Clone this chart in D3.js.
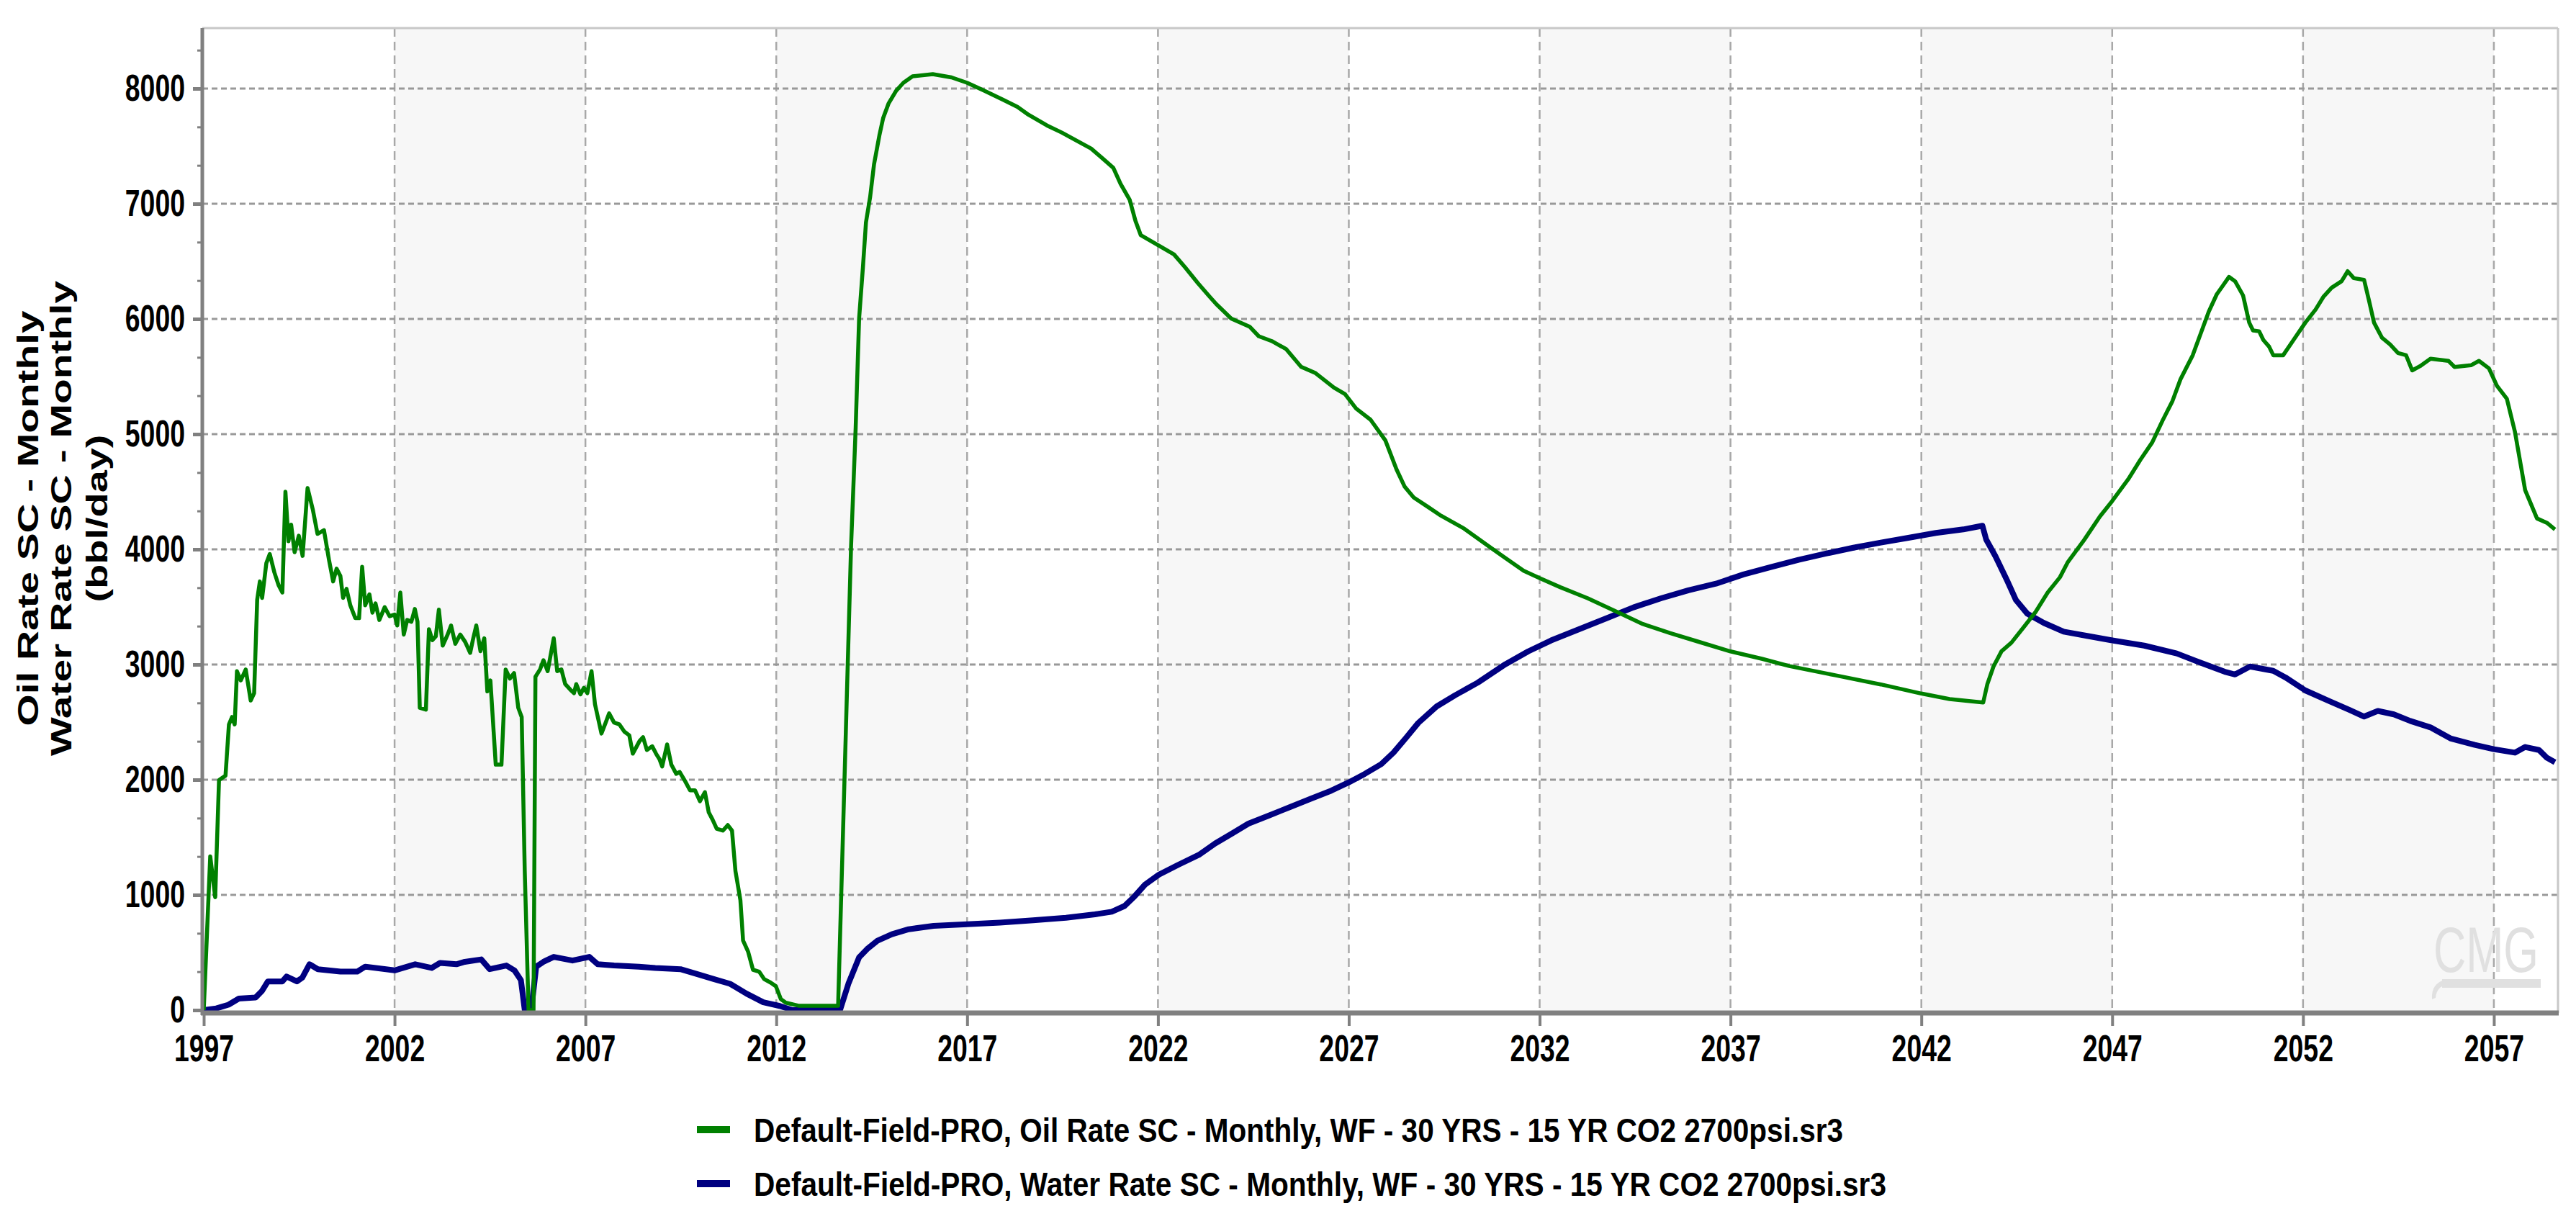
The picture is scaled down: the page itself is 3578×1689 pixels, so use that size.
<!DOCTYPE html>
<html>
<head>
<meta charset="utf-8">
<script src="https://cdn.jsdelivr.net/npm/d3@7"></script>
<style>
  body { margin: 0; background: #fff; }
  svg { display: block; }
</style>
</head>
<body>
<svg id="chart"></svg>
<script>
const width = 3578;
const height = 1689;

// oil rate, bbl/day
const oilT = [1997.00, 1997.17, 1997.30, 1997.40, 1997.57, 1997.66, 1997.74, 1997.81, 1997.87, 1997.97,
  1998.10, 1998.23, 1998.32, 1998.40, 1998.47, 1998.53, 1998.64, 1998.73, 1998.85, 1998.96,
  1999.06, 1999.14, 1999.22, 1999.29, 1999.38, 1999.49, 1999.59, 1999.72, 1999.86, 1999.98,
  2000.15, 2000.28, 2000.39, 2000.48, 2000.58, 2000.65, 2000.74, 2000.84, 2000.97, 2001.07,
  2001.15, 2001.23, 2001.34, 2001.42, 2001.50, 2001.60, 2001.74, 2001.87, 2002.00, 2002.07,
  2002.15, 2002.24, 2002.33, 2002.44, 2002.53, 2002.60, 2002.66, 2002.82, 2002.90, 2002.99,
  2003.08, 2003.16, 2003.26, 2003.39, 2003.48, 2003.59, 2003.72, 2003.85, 2003.98, 2004.05,
  2004.14, 2004.25, 2004.35, 2004.43, 2004.51, 2004.65, 2004.80, 2004.91, 2005.02, 2005.13,
  2005.24, 2005.33, 2005.41, 2005.51, 2005.64, 2005.69, 2005.81, 2005.90, 2006.01, 2006.17,
  2006.26, 2006.37, 2006.47, 2006.60, 2006.70, 2006.76, 2006.87, 2006.96, 2007.05, 2007.16,
  2007.25, 2007.42, 2007.53, 2007.62, 2007.75, 2007.89, 2008.02, 2008.15, 2008.24, 2008.42,
  2008.51, 2008.61, 2008.75, 2008.85, 2008.94, 2009.01, 2009.14, 2009.25, 2009.38, 2009.47,
  2009.61, 2009.74, 2009.87, 2010.00, 2010.13, 2010.23, 2010.33, 2010.44, 2010.60, 2010.73,
  2010.84, 2010.93, 2011.06, 2011.13, 2011.26, 2011.39, 2011.55, 2011.68, 2011.85, 2011.99,
  2012.12, 2012.25, 2012.58, 2013.62, 2013.96, 2014.08, 2014.17, 2014.27, 2014.35, 2014.46,
  2014.56, 2014.70, 2014.80, 2014.94, 2015.14, 2015.33, 2015.57, 2016.10, 2016.59, 2017.00,
  2017.45, 2017.94, 2018.32, 2018.61, 2019.09, 2019.48, 2019.86, 2020.25, 2020.54, 2020.83,
  2021.02, 2021.26, 2021.41, 2021.55, 2021.99, 2022.42, 2022.71, 2023.05, 2023.34, 2023.53,
  2023.92, 2024.40, 2024.64, 2024.98, 2025.36, 2025.75, 2026.13, 2026.61, 2026.90, 2027.19,
  2027.57, 2027.96, 2028.25, 2028.46, 2028.70, 2029.06, 2029.42, 2030.02, 2030.62, 2031.10,
  2031.58, 2032.00, 2032.54, 2033.26, 2033.98, 2034.70, 2035.42, 2036.14, 2037.00, 2037.82,
  2038.54, 2039.74, 2040.94, 2042.00, 2042.74, 2043.62, 2043.73, 2043.89, 2044.10, 2044.36,
  2044.68, 2044.99, 2045.31, 2045.63, 2045.84, 2046.26, 2046.68, 2047.00, 2047.42, 2047.74,
  2048.05, 2048.32, 2048.58, 2048.79, 2049.11, 2049.32, 2049.53, 2049.74, 2049.90, 2050.06,
  2050.22, 2050.43, 2050.59, 2050.69, 2050.85, 2050.96, 2051.11, 2051.22, 2051.48, 2051.75,
  2052.06, 2052.33, 2052.54, 2052.75, 2053.01, 2053.17, 2053.33, 2053.60, 2053.73, 2053.86,
  2054.07, 2054.28, 2054.49, 2054.70, 2054.86, 2055.07, 2055.34, 2055.81, 2055.97, 2056.40,
  2056.61, 2056.87, 2057.08, 2057.34, 2057.55, 2057.82, 2058.13, 2058.39, 2058.60];
const oilQ = [0, 1335, 980, 1997, 2035, 2480, 2544, 2480, 2942, 2862,
  2957, 2687, 2751, 3562, 3721, 3578, 3880, 3959, 3800, 3689,
  3625, 4500, 4070, 4214, 3975, 4118, 3943, 4532, 4341, 4134,
  4166, 3911, 3721, 3832, 3768, 3578, 3657, 3514, 3403, 3403,
  3848, 3514, 3609, 3450, 3530, 3387, 3498, 3419, 3434, 3339,
  3625, 3260, 3387, 3371, 3482, 3371, 2624, 2608, 3307, 3212,
  3244, 3476, 3164, 3260, 3339, 3180, 3260, 3196, 3101, 3212,
  3339, 3116, 3228, 2767, 2862, 2131, 2131, 2957, 2878, 2926,
  2624, 2544, 1208, 0, 0, 2894, 2957, 3037, 2942, 3228,
  2942, 2957, 2830, 2783, 2751, 2830, 2741, 2798, 2751, 2942,
  2655, 2401, 2496, 2576, 2496, 2480, 2417, 2385, 2226, 2337,
  2369, 2258, 2290, 2226, 2178, 2115, 2306, 2131, 2051, 2067,
  1988, 1908, 1908, 1813, 1892, 1717, 1654, 1574, 1558, 1606,
  1558, 1208, 954, 604, 509, 350, 334, 270, 239, 207,
  95, 64, 38, 38, 4031, 5056, 6003, 6448, 6838, 7061,
  7340, 7591, 7744, 7869, 7981, 8050, 8106, 8125, 8097, 8050,
  7981, 7903, 7841, 7772, 7680, 7618, 7549, 7479, 7396, 7312,
  7173, 7033, 6852, 6727, 6643, 6560, 6448, 6309, 6198, 6128,
  6003, 5933, 5850, 5808, 5738, 5585, 5529, 5404, 5348, 5223,
  5125, 4944, 4694, 4546, 4450, 4371, 4291, 4180, 4037, 3925,
  3814, 3750, 3671, 3575, 3464, 3352, 3273, 3200, 3114, 3050,
  2987, 2907, 2827, 2748, 2700, 2670, 2831, 2983, 3115, 3190,
  3323, 3455, 3625, 3757, 3890, 4079, 4286, 4419, 4608, 4778,
  4929, 5118, 5288, 5477, 5685, 5874, 6063, 6214, 6289, 6365,
  6327, 6203, 5968, 5900, 5893, 5817, 5760, 5685, 5685, 5817,
  5968, 6082, 6195, 6271, 6327, 6414, 6354, 6339, 6157, 5968,
  5836, 5779, 5704, 5685, 5553, 5591, 5655, 5636, 5583, 5598,
  5636, 5571, 5420, 5307, 5023, 4513, 4268, 4230, 4173];

// water rate, bbl/day
const waterT = [1997.00, 1997.33, 1997.65, 1997.92, 1998.36, 1998.52, 1998.68, 1999.06, 1999.17, 1999.44,
  1999.58, 1999.77, 1999.99, 2000.58, 2001.02, 2001.23, 2002.00, 2002.54, 2002.97, 2003.19,
  2003.62, 2003.84, 2004.27, 2004.49, 2004.93, 2005.14, 2005.31, 2005.41, 2005.58, 2005.71,
  2005.90, 2006.17, 2006.66, 2007.10, 2007.32, 2007.75, 2008.40, 2008.83, 2009.49, 2009.92,
  2010.36, 2010.79, 2011.22, 2011.66, 2012.09, 2012.42, 2013.67, 2013.89, 2014.17, 2014.38,
  2014.65, 2015.03, 2015.47, 2016.12, 2017.00, 2017.86, 2018.73, 2019.59, 2020.35, 2020.79,
  2021.12, 2021.39, 2021.66, 2022.02, 2022.53, 2023.07, 2023.50, 2023.94, 2024.37, 2024.92,
  2025.46, 2026.00, 2026.54, 2027.00, 2027.41, 2027.85, 2028.17, 2028.50, 2028.82, 2029.30,
  2029.78, 2030.38, 2031.10, 2031.70, 2032.30, 2033.02, 2033.74, 2034.46, 2035.18, 2035.90,
  2036.62, 2037.34, 2038.06, 2038.78, 2039.50, 2040.22, 2040.94, 2041.66, 2042.38, 2043.10,
  2043.60, 2043.70, 2043.94, 2044.24, 2044.48, 2044.78, 2045.21, 2045.73, 2046.37, 2047.00,
  2047.84, 2048.69, 2049.43, 2049.95, 2050.22, 2050.61, 2051.22, 2051.54, 2052.06, 2052.70,
  2053.22, 2053.60, 2053.96, 2054.38, 2054.81, 2055.34, 2055.86, 2056.50, 2057.00, 2057.55,
  2057.82, 2058.18, 2058.39, 2058.60];
const waterQ = [0, 15, 47, 100, 110, 164, 249, 249, 291, 249,
  281, 398, 355, 334, 334, 377, 345, 398, 366, 409,
  398, 419, 440, 355, 387, 345, 260, 0, 0, 377,
  419, 462, 430, 462, 398, 387, 377, 366, 355, 313,
  270, 228, 143, 68, 36, 0, 0, 229, 458, 530,
  602, 659, 702, 731, 745, 759, 779, 802, 831, 854,
  903, 989, 1089, 1175, 1261, 1347, 1447, 1533, 1619, 1691,
  1762, 1834, 1905, 1977, 2049, 2135, 2235, 2364, 2493, 2636,
  2732, 2843, 3002, 3114, 3209, 3305, 3400, 3496, 3575, 3645,
  3702, 3782, 3846, 3909, 3963, 4014, 4059, 4100, 4142, 4173,
  4205, 4084, 3941, 3734, 3559, 3440, 3361, 3285, 3247, 3209,
  3164, 3096, 3001, 2937, 2914, 2983, 2945, 2888, 2775, 2680,
  2605, 2548, 2597, 2567, 2510, 2454, 2359, 2302, 2265, 2235,
  2284, 2258, 2190, 2152];

const xTicks = [1997, 2002, 2007, 2012, 2017, 2022, 2027, 2032, 2037, 2042, 2047, 2052, 2057];
const yTicks = [0, 1000, 2000, 3000, 4000, 5000, 6000, 7000, 8000];
const yTitle = ["Oil Rate SC - Monthly", "Water Rate SC - Monthly", "(bbl/day)"];
const legendLabels = [
  "Default-Field-PRO, Oil Rate SC - Monthly, WF - 30 YRS - 15 YR CO2 2700psi.sr3",
  "Default-Field-PRO, Water Rate SC - Monthly, WF - 30 YRS - 15 YR CO2 2700psi.sr3"
];
const seriesColors = ["#008000", "#000080"];

const plotL = 281, plotR = 3553, plotT = 39, plotB = 1403;

const svg = d3.select("#chart")
  .attr("width", width)
  .attr("height", height)
  .attr("viewBox", [0, 0, width, height]);

const x = d3.scaleLinear().domain([1997, 2058.68]).range([283, plotR]);
const y = d3.scaleLinear().domain([0, 8525]).range([plotB, plotT]);

const font = "'Liberation Sans', Arial, sans-serif";

// alternating shaded bands
const bands = [];
for (let i = 1; i < xTicks.length; i += 2) {
  bands.push([xTicks[i], i + 1 < xTicks.length ? xTicks[i + 1] : x.domain()[1]]);
}
svg.append("g")
  .selectAll("rect")
  .data(bands)
  .join("rect")
  .attr("x", d => x(d[0]))
  .attr("width", d => x(d[1]) - x(d[0]))
  .attr("y", plotT)
  .attr("height", plotB - plotT)
  .attr("fill", "#f7f7f7");

// grid
svg.append("g")
  .selectAll("line")
  .data(xTicks.slice(1))
  .join("line")
  .attr("x1", d => x(d)).attr("x2", d => x(d))
  .attr("y1", plotT).attr("y2", plotB)
  .attr("stroke", "#a8a8a8")
  .attr("stroke-width", 2.5)
  .attr("stroke-dasharray", "12,7");

svg.append("g")
  .selectAll("line")
  .data(yTicks.slice(1))
  .join("line")
  .attr("x1", plotL).attr("x2", plotR)
  .attr("y1", d => y(d)).attr("y2", d => y(d))
  .attr("stroke", "#999")
  .attr("stroke-width", 3)
  .attr("stroke-dasharray", "8,5");

// CMG watermark
const logo = svg.append("g").attr("fill", "#e0e0e0");
logo.append("text")
  .attr("transform", "translate(3380,1350) scale(1,1.45)")
  .attr("font-family", font)
  .attr("font-size", 62)
  .attr("textLength", 146)
  .attr("lengthAdjust", "spacingAndGlyphs")
  .text("CMG");
logo.append("rect").attr("x", 3392).attr("y", 1360).attr("width", 137).attr("height", 12);
logo.append("path")
  .attr("d", "M3396,1361 C3384,1364 3377,1372 3378,1388 L3383,1386 C3384,1375 3390,1369 3398,1368 Z");

// borders
svg.append("line")
  .attr("x1", plotL).attr("x2", plotR).attr("y1", plotT).attr("y2", plotT)
  .attr("stroke", "#c8c8c8").attr("stroke-width", 3);
svg.append("line")
  .attr("x1", plotR).attr("x2", plotR).attr("y1", plotT).attr("y2", plotB + 4)
  .attr("stroke", "#c8c8c8").attr("stroke-width", 3);

// series
svg.append("clipPath").attr("id", "plot-clip")
  .append("rect").attr("x", plotL).attr("y", plotT).attr("width", plotR - plotL).attr("height", plotB - plotT + 4);

const line = d3.line().x(d => x(d[0])).y(d => y(d[1]));
const oil = oilT.map((t, i) => [t, oilQ[i]]);
const water = waterT.map((t, i) => [t, waterQ[i]]);

const plot = svg.append("g").attr("clip-path", "url(#plot-clip)");
plot.append("path")
  .datum(water)
  .attr("fill", "none")
  .attr("stroke", seriesColors[1])
  .attr("stroke-width", 8)
  .attr("stroke-linejoin", "round")
  .attr("d", line);
plot.append("path")
  .datum(oil)
  .attr("fill", "none")
  .attr("stroke", seriesColors[0])
  .attr("stroke-width", 5.5)
  .attr("stroke-linejoin", "round")
  .attr("d", line);

// axes
function styleLabels(sel) {
  sel.selectAll("text")
    .attr("font-family", font)
    .attr("font-weight", "bold")
    .attr("font-size", 52)
    .attr("fill", "#000")
    .attr("textLength", function () { return this.textContent.length * 20.8; })
    .attr("lengthAdjust", "spacingAndGlyphs");
}

const yMinor = d3.range(0, 8500, 1000 / 3).filter(v => Math.round(v) % 1000 !== 0);
svg.append("g")
  .attr("transform", `translate(${plotL},0)`)
  .call(d3.axisLeft(y).tickValues(yMinor).tickSize(7).tickFormat(""))
  .call(g => g.select(".domain").remove())
  .call(g => g.selectAll("line").attr("stroke", "#808080").attr("stroke-width", 3));

svg.append("g")
  .attr("transform", `translate(${plotL},0)`)
  .call(d3.axisLeft(y).tickValues(yTicks).tickSize(13).tickPadding(11).tickFormat(d3.format("d")))
  .call(g => g.select(".domain").remove())
  .call(g => g.selectAll("line").attr("stroke", "#808080").attr("stroke-width", 5))
  .call(styleLabels);

svg.append("g")
  .attr("transform", `translate(0,${plotB + 4})`)
  .call(d3.axisBottom(x).tickValues(xTicks).tickSize(18).tickPadding(12).tickFormat(d3.format("d")))
  .call(g => g.select(".domain").remove())
  .call(g => g.selectAll("line").attr("stroke", "#808080").attr("stroke-width", 4))
  .call(styleLabels);

svg.append("line")
  .attr("x1", plotL).attr("x2", plotL).attr("y1", plotT).attr("y2", plotB + 7)
  .attr("stroke", "#808080").attr("stroke-width", 5);
svg.append("line")
  .attr("x1", plotL - 2).attr("x2", plotR + 1).attr("y1", plotB + 4).attr("y2", plotB + 4)
  .attr("stroke", "#808080").attr("stroke-width", 7);

// y title
const titleX = [39, 85, 135];
const titleLen = [577, 660, 233];
svg.append("g")
  .selectAll("text")
  .data(yTitle)
  .join("text")
  .attr("transform", (d, i) => `translate(${titleX[i]},720) rotate(-90)`)
  .attr("text-anchor", "middle")
  .attr("dy", "0.36em")
  .attr("font-family", font)
  .attr("font-weight", "bold")
  .attr("font-size", 40)
  .attr("textLength", (d, i) => titleLen[i])
  .attr("lengthAdjust", "spacingAndGlyphs")
  .text(d => d);

// legend
const legendY = [1569, 1644];
const legendLen = [1513, 1573];
const legend = svg.append("g")
  .selectAll("g")
  .data(legendLabels)
  .join("g")
  .attr("transform", (d, i) => `translate(0,${legendY[i]})`);
legend.append("line")
  .attr("x1", 968).attr("x2", 1014)
  .attr("stroke", (d, i) => seriesColors[i])
  .attr("stroke-width", 10);
legend.append("text")
  .attr("x", 1047)
  .attr("dy", "0.36em")
  .attr("font-family", font)
  .attr("font-weight", "bold")
  .attr("font-size", 46)
  .attr("textLength", (d, i) => legendLen[i])
  .attr("lengthAdjust", "spacingAndGlyphs")
  .text(d => d);
</script>
</body>
</html>
